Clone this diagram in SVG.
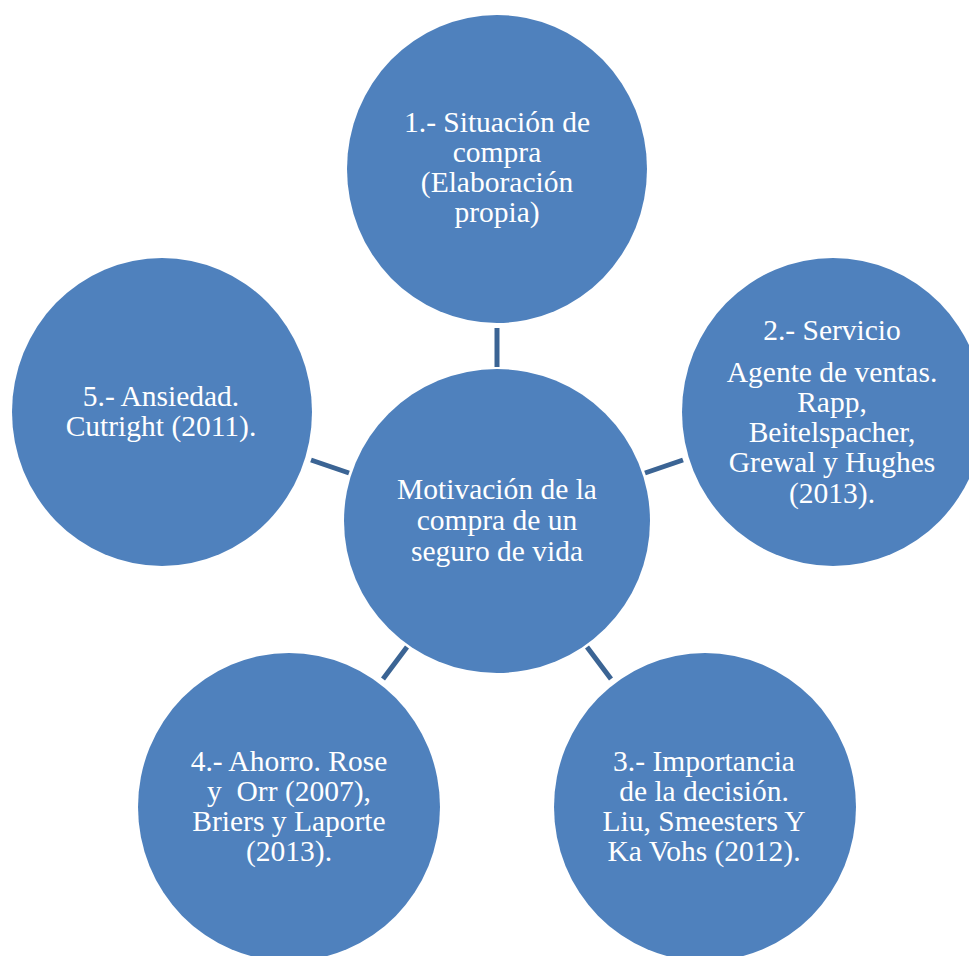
<svg xmlns="http://www.w3.org/2000/svg" width="969" height="956" viewBox="0 0 969 956">
<style>
.node{fill:#4F81BD;}
.lbl{font-size:29.5px;fill:#FFFFFF;text-anchor:middle;white-space:pre;}
.conn{stroke:#3B6494;stroke-width:5;fill:none;}
</style>
<rect width="969" height="956" fill="#FFFFFF"/>
<g id="connectors">
<line class="conn" x1="497" y1="328" x2="497" y2="367"/>
<line class="conn" x1="645" y1="473" x2="683" y2="460"/>
<line class="conn" x1="587" y1="647" x2="611" y2="679"/>
<line class="conn" x1="407" y1="647" x2="383" y2="679"/>
<line class="conn" x1="311" y1="460" x2="349" y2="473"/>
</g>
<g font-family="'Liberation Serif', serif">
<g id="center">
<ellipse class="node" cx="497" cy="521" rx="153" ry="152"/>
<text class="lbl" x="497" y="499">Motivación de la</text>
<text class="lbl" x="497" y="530">compra de un</text>
<text class="lbl" x="497" y="561">seguro de vida</text>
</g>
<g id="n1">
<ellipse class="node" cx="497" cy="169" rx="150" ry="154"/>
<text class="lbl" x="497" y="132">1.- Situación de</text>
<text class="lbl" x="497" y="162">compra</text>
<text class="lbl" x="497" y="192">(Elaboración</text>
<text class="lbl" x="497" y="222">propia)</text>
</g>
<g id="n2">
<ellipse class="node" cx="833" cy="412" rx="151" ry="154"/>
<text class="lbl" x="832" y="340">2.- Servicio</text>
<text class="lbl" x="832" y="382">Agente de ventas.</text>
<text class="lbl" x="832" y="412">Rapp,</text>
<text class="lbl" x="832" y="442">Beitelspacher,</text>
<text class="lbl" x="832" y="472">Grewal y Hughes</text>
<text class="lbl" x="832" y="503">(2013).</text>
</g>
<g id="n3">
<ellipse class="node" cx="705" cy="807" rx="151" ry="154"/>
<text class="lbl" x="704" y="771">3.- Importancia</text>
<text class="lbl" x="704" y="801">de la decisión.</text>
<text class="lbl" x="704" y="831">Liu, Smeesters Y</text>
<text class="lbl" x="704" y="861">Ka Vohs (2012).</text>
</g>
<g id="n4">
<ellipse class="node" cx="289" cy="807" rx="151" ry="154"/>
<text class="lbl" x="289" y="771">4.- Ahorro. Rose</text>
<text class="lbl" x="289" y="801">y  Orr (2007),</text>
<text class="lbl" x="289" y="831">Briers y Laporte</text>
<text class="lbl" x="289" y="861">(2013).</text>
</g>
<g id="n5">
<ellipse class="node" cx="162" cy="412" rx="150" ry="154"/>
<text class="lbl" x="161" y="406">5.- Ansiedad.</text>
<text class="lbl" x="161" y="436">Cutright (2011).</text>
</g>
</g>
</svg>
